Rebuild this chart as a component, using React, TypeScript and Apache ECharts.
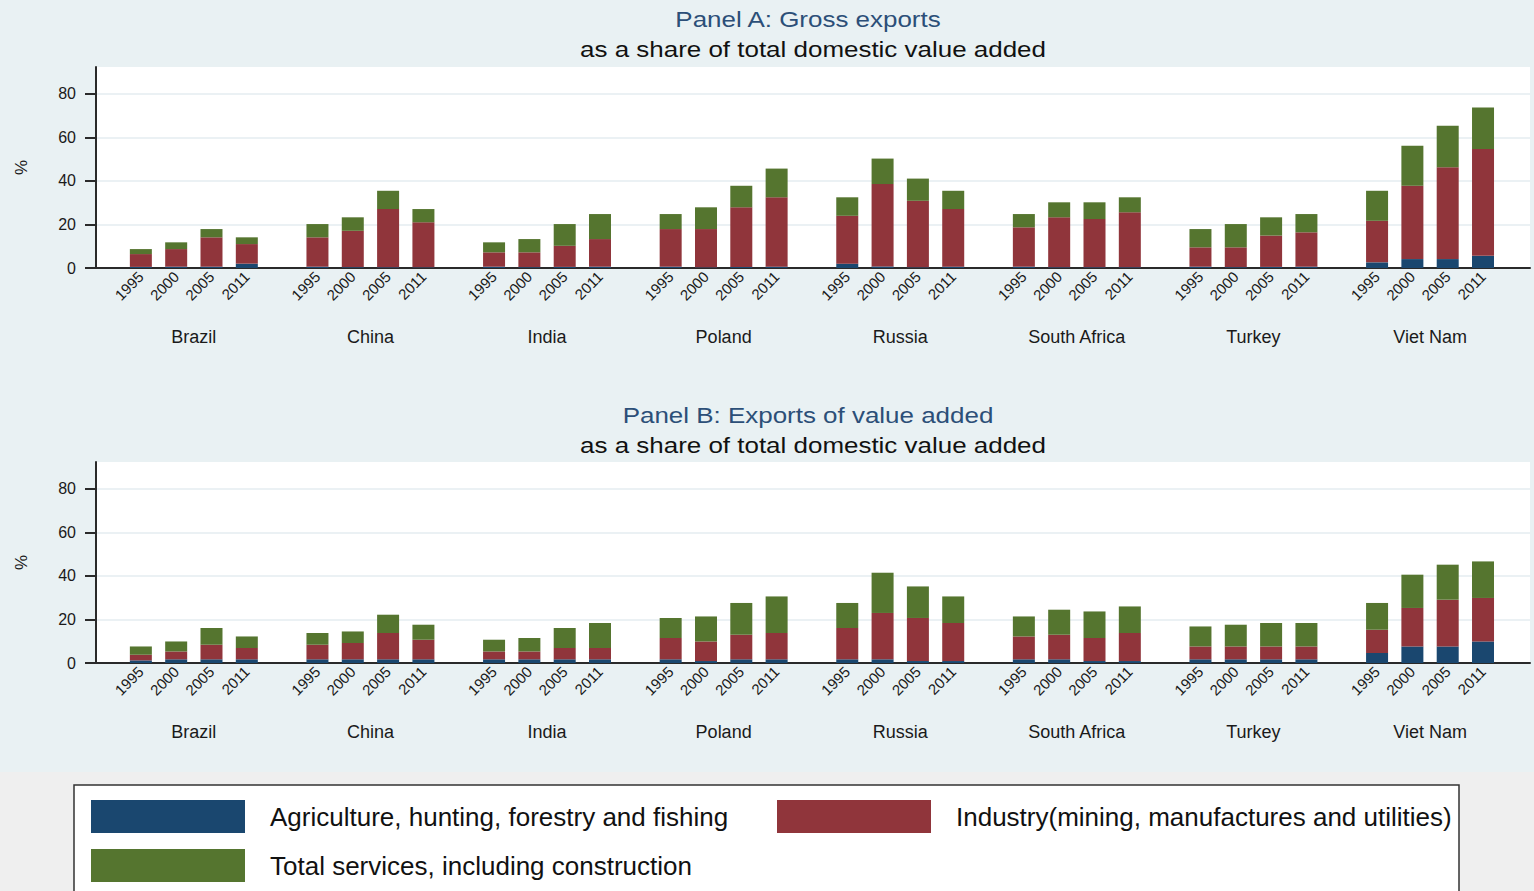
import React, { useEffect, useRef } from "react";
import * as echarts from "echarts";

// Countries and years shown on the category scale
const countries = ["Brazil", "China", "India", "Poland", "Russia", "South Africa", "Turkey", "Viet Nam"];
const years = ["1995", "2000", "2005", "2011"];
const yTicks = [0, 20, 40, 60, 80];

const sectorNames = [
  "Agriculture, hunting, forestry and fishing",
  "Industry(mining, manufactures and utilities)",
  "Total services, including construction",
];

// Panel A: gross exports, % of total domestic value added (country-major, years inside)
const grossAgriculture = [
  0.5, 0.6, 0.6, 2.0, 0.6, 0.4, 0.4, 0.3, 0.6, 0.4, 0.5, 0.6, 0.6, 0.3, 0.5, 0.6,
  2.0, 0.7, 0.3, 0.6, 0.6, 0.4, 0.4, 0.4, 0.6, 0.4, 0.5, 0.6, 2.6, 4.1, 4.1, 5.6,
];
const grossIndustry = [
  5.9, 8.1, 13.5, 9.0, 13.5, 16.7, 26.7, 20.7, 6.6, 6.8, 9.7, 12.7, 17.3, 17.6, 27.4, 31.9,
  22.0, 37.9, 30.6, 26.5, 18.1, 22.9, 22.1, 25.2, 8.9, 9.1, 14.4, 15.8, 19.1, 33.7, 42.2, 49.1,
];
const grossServices = [
  2.3, 3.1, 3.8, 3.1, 6.1, 6.2, 8.4, 6.1, 4.6, 6.1, 10.0, 11.5, 6.9, 10.0, 9.9, 13.2,
  8.5, 11.7, 10.2, 8.4, 6.1, 6.9, 7.7, 6.9, 8.4, 10.7, 8.4, 8.4, 13.8, 18.4, 19.1, 19.1,
];

// Panel B: exports of value added, % of total domestic value added
const vaAgriculture = [
  1.2, 1.7, 1.7, 1.7, 1.7, 1.7, 1.7, 1.7, 1.7, 1.7, 1.7, 1.7, 1.7, 0.9, 1.7, 1.7,
  1.7, 1.7, 0.9, 0.9, 1.7, 1.7, 0.9, 0.9, 1.7, 1.7, 1.7, 1.7, 4.6, 7.6, 7.6, 9.9,
];
const vaIndustry = [
  2.6, 3.6, 6.7, 5.2, 6.7, 7.5, 12.1, 9.0, 3.6, 3.6, 5.2, 5.2, 9.8, 9.0, 11.3, 12.1,
  14.4, 21.3, 19.8, 17.5, 10.5, 11.3, 10.6, 12.9, 5.9, 5.9, 5.9, 5.9, 10.7, 17.7, 21.5, 20.0,
];
const vaServices = [
  3.8, 4.6, 7.7, 5.3, 5.4, 5.3, 8.4, 6.9, 5.4, 6.2, 9.2, 11.5, 9.2, 11.5, 14.6, 16.8,
  11.5, 18.5, 14.5, 12.2, 9.2, 11.5, 12.2, 12.2, 9.2, 10.0, 10.8, 10.8, 12.3, 15.3, 16.1, 16.8,
];

const FONT = "'Liberation Sans', Arial, sans-serif";
const COLORS = ["#1a476f", "#90353b", "#55752f"];

// Each country takes five slots: four bars and one gap
const SLOTS_PER_GROUP = years.length + 1;
const barPositions = countries.flatMap((_, g) => years.map((_, b) => g * SLOTS_PER_GROUP + b + 1));
const groupCenters = countries.map((_, g) => g * SLOTS_PER_GROUP + (years.length + 1) / 2);
const X_MIN = -0.27;
const X_MAX = 40.33;
const Y_MAX = 92.4;

function yearOf(v: number) {
  return years[Math.round(v - 1) % SLOTS_PER_GROUP] ?? "";
}
function countryOf(v: number) {
  return countries[Math.round((v - (years.length + 1) / 2) / SLOTS_PER_GROUP)] ?? "";
}

function panelAxes(gridIndex: number) {
  const base = {
    type: "value" as const,
    gridIndex,
    min: X_MIN,
    max: X_MAX,
    splitLine: { show: false },
    axisTick: { show: false },
  };
  return [
    {
      ...base,
      axisLine: { show: true, onZero: false, lineStyle: { color: "#2a2a2a", width: 2 } },
      axisLabel: {
        customValues: barPositions,
        formatter: (v: number) => yearOf(v),
        rotate: 45,
        fontSize: 15,
        color: "#1a1a1a",
        margin: 6,
      },
    },
    {
      ...base,
      position: "bottom",
      offset: 60,
      axisLine: { show: false, onZero: false },
      axisLabel: {
        customValues: groupCenters,
        formatter: (v: number) => countryOf(v),
        fontSize: 18,
        color: "#1a1a1a",
        margin: 0,
      },
    },
  ];
}

function panelYAxis(gridIndex: number) {
  return {
    type: "value",
    gridIndex,
    min: 0,
    max: Y_MAX,
    interval: 20,
    name: "%",
    nameLocation: "middle",
    nameRotate: 90,
    nameGap: 66,
    nameTextStyle: { fontSize: 17, color: "#1a1a1a" },
    axisLine: { show: true, onZero: false, lineStyle: { color: "#2a2a2a", width: 2 } },
    axisTick: { show: true, length: 11, customValues: yTicks, lineStyle: { color: "#2a2a2a", width: 2 } },
    axisLabel: { customValues: yTicks, fontSize: 16, color: "#1a1a1a", margin: 20 },
    splitLine: { show: true, lineStyle: { color: "#e4edf1", width: 1.5 } },
  };
}

function panelSeries(panel: number, values: number[][]) {
  return values.map((vals, s) => ({
    name: sectorNames[s],
    type: "bar",
    stack: "panel" + panel,
    xAxisIndex: panel * 2,
    yAxisIndex: panel,
    barWidth: 22,
    itemStyle: { color: COLORS[s] },
    encode: { x: 1, y: 0 },
    data: vals.map((v, i) => [v, barPositions[i]]),
  }));
}

function titleTexts(y: number, first: string) {
  const common = { fontSize: 22, fontFamily: FONT, align: "center", verticalAlign: "middle" };
  return [
    { type: "text", x: 808, y, scaleX: 1.18, style: { ...common, text: first, fill: "#2c4f78" } },
    {
      type: "text",
      x: 813,
      y: y + 30,
      scaleX: 1.18,
      style: { ...common, text: "as a share of total domestic value added", fill: "#111" },
    },
  ];
}

export default function App() {
  const ref = useRef<HTMLDivElement>(null);

  useEffect(() => {
    if (!ref.current) return;
    const chart = echarts.init(ref.current, undefined, { renderer: "svg" });
    const legendText = { fontSize: 26, color: "#111", fontFamily: FONT, padding: [0, 0, 0, 20] };
    chart.setOption({
      animation: false,
      backgroundColor: "#e9f1f3",
      textStyle: { fontFamily: FONT },
      graphic: [
        { type: "rect", silent: true, shape: { x: 0, y: 772, width: 1534, height: 119 }, style: { fill: "#efefef" } },
        {
          type: "rect",
          silent: true,
          shape: { x: 74, y: 785, width: 1385, height: 120 },
          style: { fill: "#ffffff", stroke: "#333", lineWidth: 1.5 },
        },
        ...titleTexts(19, "Panel A: Gross exports"),
        ...titleTexts(415, "Panel B: Exports of value added"),
      ],
      legend: [
        {
          data: [sectorNames[0], sectorNames[2]],
          orient: "vertical",
          left: 91,
          top: 800,
          padding: 0,
          itemWidth: 154,
          itemHeight: 33,
          itemGap: 16,
          icon: "rect",
          selectedMode: false,
          textStyle: legendText,
        },
        {
          data: [sectorNames[1]],
          left: 777,
          top: 800,
          padding: 0,
          itemWidth: 154,
          itemHeight: 33,
          icon: "rect",
          selectedMode: false,
          textStyle: legendText,
        },
      ],
      grid: [
        { left: 96, right: 4, top: 67, height: 201, show: true, backgroundColor: "#ffffff", borderWidth: 0 },
        { left: 96, right: 4, top: 462, height: 201, show: true, backgroundColor: "#ffffff", borderWidth: 0 },
      ],
      xAxis: [...panelAxes(0), ...panelAxes(1)],
      yAxis: [panelYAxis(0), panelYAxis(1)],
      series: [
        ...panelSeries(0, [grossAgriculture, grossIndustry, grossServices]),
        ...panelSeries(1, [vaAgriculture, vaIndustry, vaServices]),
      ],
    });
    return () => chart.dispose();
  }, []);

  return <div ref={ref} style={{ position: "fixed", left: 0, top: 0, width: 1534, height: 891 }} />;
}
